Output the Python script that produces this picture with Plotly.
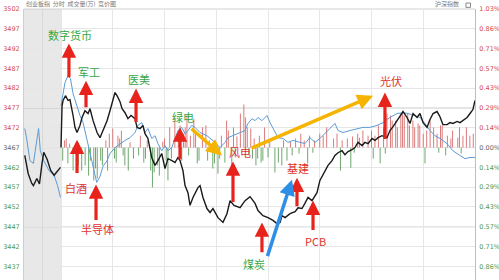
import plotly.graph_objects as go

# ---------------- data ----------------
# pre-open auction (minutes before 9:30)
auc_t = [-21, -20, -19, -17, -16, -14, -12.5, -11, -10, -8, -6, -4, -2, -0.3]
auc_price = [3465.0, 3463.0, 3460.4, 3458.0, 3457.4, 3459.2, 3457.8, 3463.0, 3465.8, 3464.0, 3461.2, 3460.0, 3461.0, 3462.0]
auc_blue_t = [-21, -20, -18, -16, -15, -13, -12, -10, -7, -4, -2, -0.3]
auc_blue = [3471.8, 3469.5, 3463.7, 3463.0, 3466.0, 3471.8, 3466.2, 3463.7, 3461.2, 3460.0, 3457.4, 3454.4]

# intraday index price (black)
price_t = [0, 0.6, 1.2, 2.6, 4.1, 5.2, 7.0, 8.1, 9.3, 11.0, 12.2, 13.9, 15.7, 16.8, 18.6, 20.9, 22.6,
           24.3, 26.7, 28.4, 30.1, 31.3, 32.5, 34.2, 35.4, 37.1, 38.8, 40.6, 42.9, 44.1, 45.8, 47.5,
           48.7, 50.4, 52.6, 54.5, 56.2, 58.4, 60.3, 62.0, 64.3, 66.1, 67.8, 69.0, 70.7, 71.9, 73.6,
           74.8, 76.5, 79.4, 80.6, 82.3, 84.6, 86.4, 88.1, 91.0, 93.9, 96.2, 98.0, 100.3, 103.8,
           106.7, 109.6, 112.5, 114.2, 117.1, 120.0, 122.9, 125.2, 127.0, 128.1, 129.9, 132.8, 135.7,
           137.4, 139.7, 141.4, 143.2, 145.5, 148.4, 150.1, 153.0, 154.8, 157.1, 158.8, 160.6, 162.9,
           164.6, 166.4, 168.7, 170.4, 172.2, 174.5, 176.2, 178.0, 180.3, 182.0, 183.8, 186.1, 189.0,
           190.7, 192.5, 194.8, 196.5, 198.3, 200.6, 202.3, 204.1, 206.4, 208.1, 209.9, 212.2, 213.9,
           215.7, 218.0, 219.7, 221.4, 223.8, 225.5, 227.2, 229.6, 231.3, 233.0, 235.4, 237.1, 238.8, 240]
price = [3467.0, 3477.5, 3478.9, 3480.1, 3478.9, 3479.1, 3475.1, 3472.1, 3470.8, 3472.6, 3474.6, 3476.3,
         3475.6, 3476.8, 3473.8, 3470.8, 3469.5, 3471.3, 3473.8, 3476.3, 3478.9, 3480.9, 3480.1, 3478.6,
         3476.8, 3475.8, 3474.3, 3475.1, 3474.3, 3472.1, 3471.8, 3472.6, 3470.5, 3469.3, 3464.5, 3462.5,
         3463.7, 3465.5, 3461.7, 3464.2, 3463.7, 3463.2, 3464.5, 3463.7, 3461.2, 3457.4, 3455.6, 3452.4,
         3454.4, 3456.9, 3457.4, 3454.4, 3451.6, 3450.6, 3451.6, 3449.3, 3448.1, 3450.3, 3453.6, 3452.4,
         3451.8, 3453.6, 3454.6, 3452.9, 3451.1, 3449.8, 3449.3, 3448.6, 3447.8, 3448.1, 3449.8, 3449.3,
         3450.3, 3450.8, 3451.8, 3451.6, 3452.9, 3454.4, 3453.6, 3455.6, 3458.7, 3461.2, 3462.5, 3463.7,
         3465.0, 3465.7, 3466.2, 3465.2, 3466.0, 3466.5, 3467.0, 3468.3, 3467.5, 3468.3, 3468.0, 3469.3,
         3468.8, 3469.5, 3470.0, 3469.5, 3471.3, 3472.3, 3473.8, 3475.1, 3476.1, 3474.6, 3473.1, 3475.6,
         3474.6, 3475.6, 3473.3, 3472.1, 3474.1, 3475.6, 3476.1, 3474.8, 3472.8, 3472.8, 3473.3, 3473.1,
         3473.6, 3473.3, 3473.8, 3474.6, 3475.6, 3476.6, 3478.9]

# comparison index (blue), mapped onto the same scale
blue_t = [0, 0.6, 2.3, 4.1, 5.5, 7.0, 9.1, 11.0, 12.8, 14.9, 16.8, 18.6, 20.7, 22.6, 24.3, 26.7, 28.4,
          31.3, 34.2, 37.1, 40.0, 42.9, 44.6, 46.8, 48.7, 50.4, 52.6, 54.5, 56.2, 58.4, 60.3, 62.0,
          64.2, 66.1, 67.8, 70.0, 71.9, 73.6, 75.8, 77.7, 80.6, 84.6, 89.3, 92.2, 95.1, 96.8, 99.7,
          103.8, 106.7, 108.4, 110.7, 112.5, 114.2, 116.5, 119.4, 121.2, 124.1, 125.8, 128.7, 131.6,
          134.5, 138.6, 141.4, 144.3, 147.2, 150.1, 153.0, 155.9, 158.8, 160.6, 163.5, 167.5, 171.6,
          175.1, 179.1, 183.2, 186.7, 190.7, 194.8, 198.3, 201.2, 204.1, 208.1, 211.0, 213.9, 216.8,
          219.7, 223.8, 227.2, 231.3, 234.2, 237.1, 240]
blue = [3477.6, 3478.9, 3483.4, 3485.2, 3484.4, 3480.6, 3477.6, 3475.1, 3473.3, 3469.3, 3465.7, 3462.2,
        3458.2, 3459.7, 3462.2, 3463.7, 3465.5, 3467.0, 3468.0, 3468.8, 3469.5, 3470.8, 3472.6, 3473.3,
        3470.8, 3471.8, 3469.3, 3470.0, 3468.0, 3466.2, 3467.5, 3466.2, 3467.0, 3469.5, 3471.3, 3472.1,
        3470.5, 3471.3, 3472.6, 3472.1, 3470.8, 3470.0, 3468.3, 3467.0, 3468.3, 3469.5, 3470.0, 3470.8,
        3471.3, 3473.1, 3474.3, 3473.8, 3474.6, 3473.8, 3475.1, 3473.3, 3470.8, 3469.5, 3469.3, 3468.3,
        3468.8, 3468.3, 3468.0, 3469.5, 3468.3, 3469.3, 3470.5, 3471.8, 3473.1, 3471.3, 3470.8, 3471.3,
        3471.8, 3472.1, 3472.1, 3472.6, 3473.3, 3474.6, 3475.6, 3475.8, 3475.6, 3475.1, 3474.6, 3473.1,
        3471.3, 3470.0, 3469.3, 3468.0, 3466.2, 3465.0, 3464.2, 3464.5, 3464.5]

# volume-difference bars (in axis units above / below the reference line)
up_t = [2, 3, 5, 26, 28, 30, 33, 34, 35, 40, 46, 50, 59, 60, 63, 66, 68, 69, 71, 72, 73, 75, 77, 78, 82,
        84, 86, 93, 96, 97, 100, 102, 104, 106, 107, 108, 110, 112, 115, 118, 121, 129, 133, 136, 139,
        141, 144, 147, 150, 152, 154, 158, 160, 163, 166, 169, 172, 173, 175, 178, 180, 182, 184, 187,
        189, 191, 192, 194, 195, 197, 198, 199, 201, 202, 204, 205, 207, 208, 210, 212, 214, 216, 218,
        220, 221, 224, 226, 227, 230, 231, 233, 235, 237, 239]
up_v = [1.8, 2.3, 1.0, 1.8, 3.5, 4.8, 3.0, 2.3, 4.3, 1.3, 3.0, 1.8, 1.5, 2.3, 5.1, 7.6, 2.3, 5.6, 3.5, 5.1,
        8.1, 3.0, 7.3, 3.8, 5.1, 5.6, 1.8, 3.0, 6.8, 4.3, 5.1, 2.8, 8.6, 10.9, 7.6, 5.1, 4.8, 2.3, 3.0,
        5.1, 1.8, 1.8, 1.5, 2.3, 3.5, 1.8, 3.0, 1.8, 3.5, 3.0, 5.1, 2.3, 3.5, 1.8, 2.3, 2.8, 3.5, 2.5,
        4.3, 3.0, 4.3, 3.0, 5.6, 5.1, 8.6, 8.1, 6.8, 6.8, 5.1, 8.6, 9.3, 8.1, 8.6, 5.6, 6.8, 5.1, 6.1,
        5.6, 3.5, 4.3, 6.8, 5.1, 3.5, 5.6, 5.6, 3.0, 2.3, 4.3, 2.5, 5.1, 3.0, 5.1, 3.0, 3.5]
dn_t = [1, 4, 7, 9, 10, 12, 14, 16, 17, 19, 20, 21, 23, 24, 27, 31, 32, 36, 37, 39, 42, 45, 48, 49, 52,
        53, 54, 56, 57, 61, 62, 64, 70, 74, 79, 80, 85, 88, 89, 91, 92, 95, 99, 101, 109, 111, 113, 114,
        116, 117, 120, 124, 126, 128, 131, 134, 138, 143, 146, 162, 168, 170, 181, 185, 188, 211, 219,
        223, 232]
dn_v = [3.3, 4.0, 5.8, 3.8, 4.5, 5.8, 4.5, 7.1, 3.3, 8.3, 5.3, 7.8, 3.3, 4.5, 5.8, 2.8, 3.8, 2.0, 4.5,
        5.8, 2.8, 2.0, 3.8, 2.8, 5.8, 10.1, 6.3, 4.5, 7.1, 3.3, 8.3, 2.8, 3.3, 2.0, 4.0, 3.3, 3.3, 5.3,
        4.0, 6.6, 2.8, 3.8, 4.5, 2.5, 2.0, 2.8, 4.5, 2.8, 3.8, 3.3, 2.5, 6.3, 3.8, 4.5, 3.3, 2.0, 1.5,
        4.0, 1.3, 5.8, 5.1, 1.3, 2.8, 4.0, 1.5, 4.0, 1.3, 2.0, 1.5]

prev_close = 3467
y_ticks = [3437, 3442, 3447, 3452, 3457, 3462, 3467, 3472, 3477, 3482, 3487, 3492, 3497, 3502]
pct_labels = ["0.86%", "0.71%", "0.57%", "0.43%", "0.29%", "0.14%", "0.00%",
              "0.14%", "0.29%", "0.43%", "0.57%", "0.71%", "0.86%", "1.03%"]
time_grid = [0, 30, 60, 90, 120, 150, 180, 210, 240]

# ---------------- styling ----------------
RED_T = "#d84a4a"
GRN_T = "#4f9a4f"
CJK = "Noto Sans CJK SC"
X_MIN, X_MAX = -21.45, 240
Y_MIN, Y_MAX = 3433.55, 3502


def colored(lbl, v):
    c = RED_T if v > prev_close else (GRN_T if v < prev_close else "#666666")
    return f'<span style="color:{c}">{lbl}</span>'


def sticks(ts, vs, sign):
    xs, ys = [], []
    for t, v in zip(ts, vs):
        xs += [t, t, None]
        ys += [prev_close, prev_close + sign * v, None]
    return xs, ys


fig = go.Figure()

ux, uy = sticks(up_t, up_v, 1)
dx, dy = sticks(dn_t, dn_v, -1)
fig.add_trace(go.Scatter(x=ux, y=uy, mode="lines", line=dict(color="rgba(214,100,100,0.85)", width=1),
                         hoverinfo="skip", showlegend=False))
fig.add_trace(go.Scatter(x=dx, y=dy, mode="lines", line=dict(color="rgba(85,150,85,0.85)", width=1),
                         hoverinfo="skip", showlegend=False))

fig.add_trace(go.Scatter(x=auc_blue_t, y=auc_blue, mode="lines", line=dict(color="#5b9bd5", width=1),
                         showlegend=False))
fig.add_trace(go.Scatter(x=blue_t, y=blue, mode="lines", line=dict(color="#5b9bd5", width=1),
                         showlegend=False))
fig.add_trace(go.Scatter(x=auc_t, y=auc_price, mode="lines", line=dict(color="#1a1a1a", width=1.4),
                         showlegend=False))
fig.add_trace(go.Scatter(x=price_t, y=price, mode="lines", line=dict(color="#1a1a1a", width=1.4),
                         showlegend=False))
# invisible trace to activate right axis
fig.add_trace(go.Scatter(x=[0], y=[prev_close], yaxis="y2", mode="markers",
                         marker=dict(opacity=0), hoverinfo="skip", showlegend=False))

shapes = [
    dict(type="rect", xref="x", yref="paper", x0=X_MIN, x1=0, y0=0, y1=1,
         fillcolor="#e8e8e8", line=dict(width=0), layer="below"),
    dict(type="line", xref="x", yref="paper", x0=-10.7, x1=-10.7, y0=0, y1=1,
         line=dict(color="#d8d8d8", width=1), layer="below"),
    dict(type="line", xref="paper", yref="paper", x0=0, x1=1, y0=1, y1=1,
         line=dict(color="#d0d0d0", width=1), layer="below"),
]
for lv in (3477, 3467, 3447):
    shapes.append(dict(type="line", xref="paper", yref="y", x0=0, x1=1, y0=lv, y1=lv,
                       line=dict(color="#c4c4c4", width=1), layer="below"))

annos = []
red_arrows = [  # (tip t, tip price, base t, base price)
    (4.6, 3493.3, 4.6, 3484.4), (14.5, 3483.9, 14.5, 3476.8), (43.5, 3481.9, 43.5, 3473.1),
    (69.0, 3472.1, 69.0, 3463.7), (99.7, 3463.5, 99.7, 3452.9), (9.3, 3469.0, 9.3, 3460.2),
    (20.3, 3457.7, 20.3, 3448.3), (116.5, 3448.1, 116.5, 3440.2), (136.8, 3459.4, 136.8, 3451.8),
    (146.1, 3453.6, 146.1, 3445.8), (187.8, 3480.9, 187.8, 3468.8),
]
for x, y, ax, ay in red_arrows:
    annos.append(dict(x=x, y=y, ax=ax, ay=ay, xref="x", yref="y", axref="x", ayref="y", text="",
                      showarrow=True, arrowhead=2, arrowsize=0.9, arrowwidth=3.2, arrowcolor="#e8231b"))
big_arrows = [
    (93.3, 3465.0, 74.8, 3472.1, "#f5b400"),
    (180.9, 3480.1, 109.6, 3466.7, "#f5b400"),
    (133.9, 3458.9, 119.4, 3439.2, "#2e8fe6"),
]
for x, y, ax, ay, col in big_arrows:
    annos.append(dict(x=x, y=y, ax=ax, ay=ay, xref="x", yref="y", axref="x", ayref="y", text="",
                      showarrow=True, arrowhead=2, arrowsize=0.9, arrowwidth=3.5, arrowcolor=col))

labels = [
    ("数字货币", 5.2, 3495.5, "#35a845"), ("军工", 16.2, 3486.2, "#35a845"), ("医美", 45.2, 3484.4, "#35a845"),
    ("绿电", 70.7, 3474.6, "#35a845"), ("风电", 103.8, 3466.0, "#e0332e"), ("白酒", 8.7, 3456.9, "#e0332e"),
    ("半导体", 20.9, 3446.5, "#e0332e"), ("煤炭", 111.9, 3437.5, "#35a845"), ("基建", 137.4, 3461.9, "#e0332e"),
    ("PCB", 147.8, 3443.3, "#e0332e"), ("光伏", 191.3, 3483.7, "#e0332e"),
]
for txt, x, y, col in labels:
    annos.append(dict(x=x, y=y, xref="x", yref="y", text=txt, showarrow=False,
                      font=dict(family=CJK, size=11, color=col)))

annos.append(dict(x=0, y=1, xref="paper", yref="paper", xanchor="left", yanchor="bottom", yshift=-1,
                  text="创业板指 &nbsp;分时 &nbsp;成交量(万) &nbsp;竞价图", showarrow=False,
                  font=dict(family=CJK, size=6, color="#777777")))
annos.append(dict(x=0.97, y=1, xref="paper", yref="paper", xanchor="right", yanchor="bottom", yshift=-1,
                  text="沪深指数", showarrow=False, font=dict(family=CJK, size=6, color="#777777")))
shapes.append(dict(type="rect", xref="paper", yref="paper", x0=0.98, x1=0.99, y0=1.006, y1=1.022,
                   line=dict(color="#888888", width=1)))

fig.update_layout(
    width=499, height=280,
    margin=dict(l=24, r=24, t=9, b=0),
    paper_bgcolor="white", plot_bgcolor="white",
    shapes=shapes, annotations=annos,
    xaxis=dict(range=[X_MIN, X_MAX], tickvals=time_grid, showticklabels=False, showgrid=True,
               gridcolor="#e6e6e6", gridwidth=1, zeroline=False, showline=False, fixedrange=True),
    yaxis=dict(range=[Y_MIN, Y_MAX], tickvals=y_ticks, ticktext=[colored(str(v), v) for v in y_ticks],
               showgrid=True, gridcolor="#e6e6e6", gridwidth=1, zeroline=False,
               showline=True, linecolor="#cfcfcf", ticks="", ticklabelstandoff=2,
               tickfont=dict(family="DejaVu Sans", size=6.5)),
    yaxis2=dict(range=[Y_MIN, Y_MAX], overlaying="y", side="right", tickvals=y_ticks,
                ticktext=[colored(p, v) for p, v in zip(pct_labels, y_ticks)], showgrid=False,
                zeroline=False, showline=True, linecolor="#bdbdbd", ticks="", ticklabelstandoff=2,
                tickfont=dict(family="DejaVu Sans", size=6.5)),
)

fig.write_html("out.html")
